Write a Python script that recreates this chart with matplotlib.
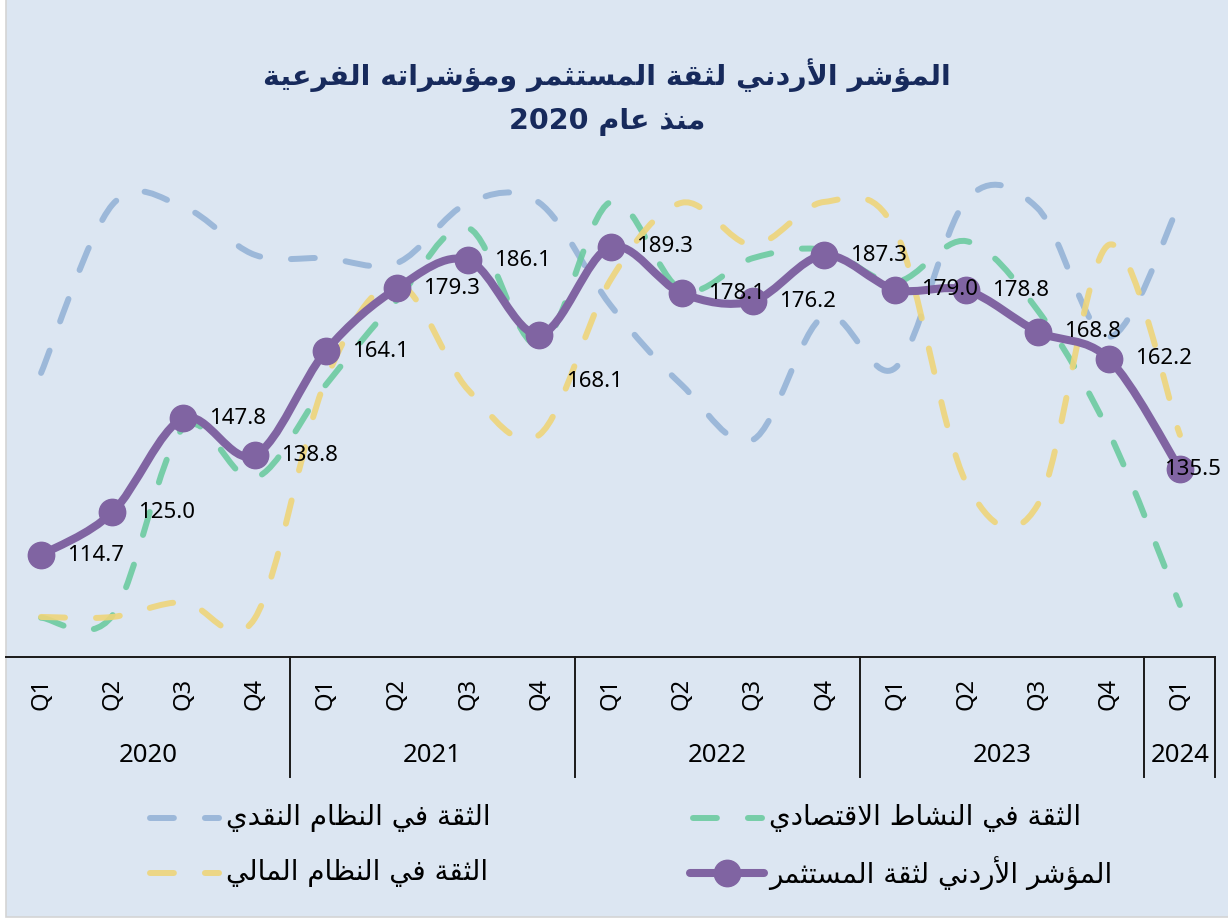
"""
plot.py - Jordanian investor confidence index and its sub-indices since 2020.

Smoothed (Excel-style) lines drawn as Bezier paths through the quarterly values.
Arabic text is shaped by hand (presentation forms + reversed order), since
matplotlib does no Arabic shaping or bidi on its own.
"""

import matplotlib.pyplot as plt
import matplotlib.transforms as mtransforms
import numpy as np
from matplotlib.lines import Line2D
from matplotlib.patches import PathPatch, Rectangle
from matplotlib.path import Path

# ---------------------------------------------------------------- data
quarters = ["Q1", "Q2", "Q3", "Q4"] * 4 + ["Q1"]
years = ["2020", "2021", "2022", "2023", "2024"]
year_sizes = [4, 4, 4, 4, 1]

investor_index = [114.7, 125.0, 147.8, 138.8, 164.1, 179.3, 186.1, 168.1, 189.3,
                  178.1, 176.2, 187.3, 179.0, 178.8, 168.8, 162.2, 135.5]
monetary = [158.8, 199.5, 199.0, 187.4, 186.6, 185.4, 200.0, 200.0, 175.2,
            155.9, 142.6, 172.6, 160.0, 200.7, 198.7, 167.5, 200.0]
economic = [99.5, 100.0, 145.5, 133.3, 155.9, 176.5, 193.9, 165.5, 200.2,
            178.9, 186.6, 188.6, 180.8, 190.7, 174.0, 144.5, 102.6]
financial = [99.7, 99.7, 103.3, 99.3, 157.1, 180.3, 154.7, 143.8, 181.3,
             200.0, 189.8, 200.2, 193.4, 132.1, 126.8, 189.8, 143.8]

title_1 = "المؤشر الأردني لثقة المستثمر ومؤشراته الفرعية"
title_2 = "منذ عام 2020"
name_index = "المؤشر الأردني لثقة المستثمر"
name_monetary = "الثقة في النظام النقدي"
name_economic = "الثقة في النشاط الاقتصادي"
name_financial = "الثقة في النظام المالي"

# ---------------------------------------------------------------- styles
BG = "#DCE6F2"
C_INDEX = "#8064A2"
C_MONETARY = "#95B3D7"
C_ECONOMIC = "#6CCBA0"
C_FINANCIAL = "#EED57A"
C_TITLE = "#172A5C"
DASH = (0, (4.0, 5.2))

W, H = 1228, 918

# ---------------------------------------------------------------- arabic shaping
# isolated, final, initial, medial
AR_FORMS = {
    "\u0627": ("\uFE8D", "\uFE8E", None, None),
    "\u0623": ("\uFE83", "\uFE84", None, None),
    "\u0624": ("\uFE85", "\uFE86", None, None),
    "\u0629": ("\uFE93", "\uFE94", None, None),
    "\u062A": ("\uFE95", "\uFE96", "\uFE97", "\uFE98"),
    "\u062B": ("\uFE99", "\uFE9A", "\uFE9B", "\uFE9C"),
    "\u062F": ("\uFEA9", "\uFEAA", None, None),
    "\u0630": ("\uFEAB", "\uFEAC", None, None),
    "\u0631": ("\uFEAD", "\uFEAE", None, None),
    "\u0633": ("\uFEB1", "\uFEB2", "\uFEB3", "\uFEB4"),
    "\u0634": ("\uFEB5", "\uFEB6", "\uFEB7", "\uFEB8"),
    "\u0635": ("\uFEB9", "\uFEBA", "\uFEBB", "\uFEBC"),
    "\u0637": ("\uFEC1", "\uFEC2", "\uFEC3", "\uFEC4"),
    "\u0638": ("\uFEC5", "\uFEC6", "\uFEC7", "\uFEC8"),
    "\u0639": ("\uFEC9", "\uFECA", "\uFECB", "\uFECC"),
    "\u0641": ("\uFED1", "\uFED2", "\uFED3", "\uFED4"),
    "\u0642": ("\uFED5", "\uFED6", "\uFED7", "\uFED8"),
    "\u0644": ("\uFEDD", "\uFEDE", "\uFEDF", "\uFEE0"),
    "\u0645": ("\uFEE1", "\uFEE2", "\uFEE3", "\uFEE4"),
    "\u0646": ("\uFEE5", "\uFEE6", "\uFEE7", "\uFEE8"),
    "\u0647": ("\uFEE9", "\uFEEA", "\uFEEB", "\uFEEC"),
    "\u0648": ("\uFEED", "\uFEEE", None, None),
    "\u064A": ("\uFEF1", "\uFEF2", "\uFEF3", "\uFEF4"),
    "\uFEFB": ("\uFEFB", "\uFEFC", None, None),  # lam-alef
    "\uFEF7": ("\uFEF7", "\uFEF8", None, None),  # lam-alef hamza
}
LAM_ALEF = {"\u0627": "\uFEFB", "\u0623": "\uFEF7"}


def shape_word(word):
    chars = []
    i = 0
    while i < len(word):
        if word[i] == "\u0644" and i + 1 < len(word) and word[i + 1] in LAM_ALEF:
            chars.append(LAM_ALEF[word[i + 1]])
            i += 2
        else:
            chars.append(word[i])
            i += 1
    out = []
    for k, c in enumerate(chars):
        forms = AR_FORMS.get(c)
        if forms is None:
            out.append(c)
            continue
        prev = AR_FORMS.get(chars[k - 1]) if k > 0 else None
        nxt = AR_FORMS.get(chars[k + 1]) if k + 1 < len(chars) else None
        join_prev = prev is not None and prev[2] is not None
        join_next = nxt is not None and forms[2] is not None
        if join_prev and join_next:
            out.append(forms[3])
        elif join_prev:
            out.append(forms[1])
        elif join_next:
            out.append(forms[2])
        else:
            out.append(forms[0])
    return "".join(out)


def ar(text):
    words = []
    for w in reversed(text.split(" ")):
        if any(ch in AR_FORMS or "\u0600" <= ch <= "\u06FF" for ch in w):
            words.append(shape_word(w)[::-1])
        else:
            words.append(w)
    return " ".join(words)


def smooth_path(xs, ys):
    """Catmull-Rom style Bezier through the points (like Excel's smoothed line)."""
    pts = np.column_stack([xs, ys]).astype(float)
    n = len(pts)
    verts = [pts[0]]
    codes = [Path.MOVETO]
    for i in range(n - 1):
        p_prev = pts[max(i - 1, 0)]
        p0, p1 = pts[i], pts[i + 1]
        p_next = pts[min(i + 2, n - 1)]
        verts += [p0 + (p1 - p_prev) / 6, p1 - (p_next - p0) / 6, p1]
        codes += [Path.CURVE4] * 3
    return Path(verts, codes)


def fx(px):
    return px / W


def fy(py):
    return 1 - py / H


# ---------------------------------------------------------------- figure
plt.rcParams["font.family"] = ["Noto Sans", "DejaVu Sans"]

fig = plt.figure(figsize=(W / 100, H / 100), dpi=100, facecolor="white")
fig.patches.append(Rectangle((fx(5.5), fy(916.5)), 1.2, 1.2, transform=fig.transFigure,
                             facecolor=BG, edgecolor="#D4D4D4", lw=1.2, zorder=-10))

ax = fig.add_axes([fx(5.5), fy(657), 1210 / W, (657 - 161.5) / H])
ax.patch.set_alpha(0)
ax.set_xlim(-0.5, len(quarters) - 0.5)
ax.set_ylim(90, 210)

x = np.arange(len(quarters))
for series, color in [(monetary, C_MONETARY), (economic, C_ECONOMIC), (financial, C_FINANCIAL)]:
    ax.add_patch(PathPatch(smooth_path(x, series), fill=False, edgecolor=color, lw=4.3,
                           linestyle=DASH, capstyle="round", joinstyle="round",
                           alpha=0.9, zorder=2))

ax.add_patch(PathPatch(smooth_path(x, investor_index), fill=False, edgecolor=C_INDEX,
                       lw=5.8, capstyle="round", joinstyle="round", zorder=4))
ax.plot(x, investor_index, "o", color=C_INDEX, ms=19, zorder=5)

# data labels (pixel offsets from the marker)
label_offsets = {7: (27, -47), 16: (-16, 0)}
for i, v in enumerate(investor_index):
    ax.annotate(f"{v:.1f}", (i, v), xytext=label_offsets.get(i, (26, 0)),
                textcoords="offset pixels", ha="left", va="center",
                fontsize=16, color="black", zorder=6)

# axes cosmetics
for side in ["top", "left", "right"]:
    ax.spines[side].set_visible(False)
ax.spines["bottom"].set_color("#1A1A1A")
ax.spines["bottom"].set_linewidth(1.4)
ax.set_yticks([])
ax.set_xticks(x, quarters, rotation=90, fontsize=17)
ax.tick_params(axis="x", length=0, pad=15)

# year groups of the category axis
trans = mtransforms.blended_transform_factory(ax.transData, ax.transAxes)
ends = np.cumsum(year_sizes) - 0.5
starts = ends - np.array(year_sizes)
for b in ends:
    ax.plot([b, b], [0, -(777 - 657) / 495.5], transform=trans, clip_on=False,
            color="#1A1A1A", lw=1.4)
for yr, s, e in zip(years, starts, ends):
    ax.text((s + e) / 2, -(755 - 657) / 495.5, yr, transform=trans,
            ha="center", va="center", fontsize=18.5)

# title
for line, py in [(title_1, 75), (title_2, 122)]:
    fig.text(fx(607), fy(py), ar(line), ha="center", va="center", fontsize=20.5,
             fontweight="bold", color=C_TITLE, family="DejaVu Sans")

# legend, drawn by hand (RTL look, 2 x 2)
legend_items = [
    (name_monetary, C_MONETARY, False, 147, 818),
    (name_economic, C_ECONOMIC, False, 690, 818),
    (name_financial, C_FINANCIAL, False, 147, 873),
    (name_index, C_INDEX, True, 690, 873),
]
for name, color, solid, px, py in legend_items:
    if solid:
        fig.add_artist(Line2D([fx(px), fx(px + 74)], [fy(py), fy(py)], transform=fig.transFigure,
                              color=color, lw=5.8, solid_capstyle="round"))
        fig.add_artist(Line2D([fx(px + 37)], [fy(py)], transform=fig.transFigure,
                              marker="o", ms=19, color=color))
    else:
        fig.add_artist(Line2D([fx(px + 3), fx(px + 72)], [fy(py), fy(py)], transform=fig.transFigure,
                              color=color, lw=4.3, linestyle=DASH, dash_capstyle="round",
                              alpha=0.9))
    fig.text(fx(px + 79), fy(py), ar(name), ha="left", va="center", fontsize=20,
             color="black", family="DejaVu Sans")

fig.savefig("out.png", dpi=100, facecolor=fig.get_facecolor())
